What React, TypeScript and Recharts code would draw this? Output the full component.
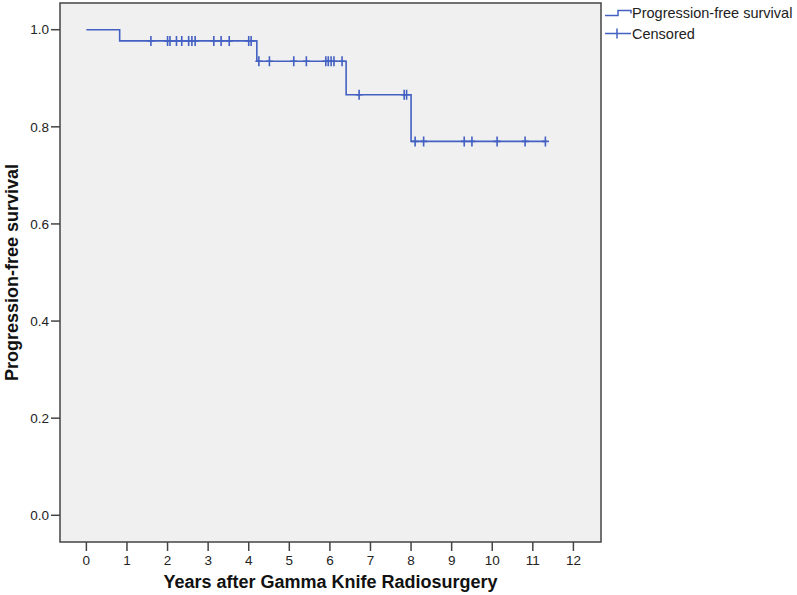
import { ComposedChart, Line, Scatter, XAxis, YAxis, ReferenceArea } from 'recharts'

// Kaplan-Meier steps (time in years, cumulative survival)
const stepTimes = [0, 0.82, 4.2, 6.4, 8.0, 11.31]
const stepSurvival = [1.0, 0.977, 0.935, 0.866, 0.77, 0.77]

// censored observations
const censorTimes = [
  1.59, 2.0, 2.06, 2.22, 2.35, 2.52, 2.6, 2.68, 3.14, 3.32, 3.52, 4.0, 4.06,
  4.25, 4.51, 5.11, 5.42, 5.9, 5.96, 6.03, 6.1, 6.3,
  6.72, 7.83, 7.89,
  8.1, 8.31, 9.31, 9.5, 10.12, 10.81, 11.31,
]
const censorSurvival = [
  0.977, 0.977, 0.977, 0.977, 0.977, 0.977, 0.977, 0.977, 0.977, 0.977, 0.977, 0.977, 0.977,
  0.935, 0.935, 0.935, 0.935, 0.935, 0.935, 0.935, 0.935, 0.935,
  0.866, 0.866, 0.866,
  0.77, 0.77, 0.77, 0.77, 0.77, 0.77, 0.77,
]

const xTicks = [0, 1, 2, 3, 4, 5, 6, 7, 8, 9, 10, 11, 12]
const yTicks = [0, 0.2, 0.4, 0.6, 0.8, 1.0]

const X_DOMAIN: [number, number] = [-0.65, 12.68]
const Y_DOMAIN: [number, number] = [-0.055, 1.055]

const BLUE = '#4360c2'
const FONT = '"Liberation Sans", Arial, sans-serif'

const survivalData = stepTimes.map((t, i) => ({ t, s: stepSurvival[i] }))
const censorData = censorTimes.map((t, i) => ({ t, s: censorSurvival[i] }))

const CensorMark = (props: any) => {
  const { cx, cy } = props
  return (
    <path
      d={`M${cx - 3.5},${cy}h7M${cx},${cy - 5}v10`}
      stroke={BLUE}
      strokeWidth={1.6}
      fill="none"
    />
  )
}

function LegendBox() {
  return (
    <div style={{ position: 'absolute', left: 603, top: 0, width: 194, height: 44 }}>
      <svg width={194} height={44} style={{ display: 'block' }}>
        <path d="M2,15.5h13v-5h13v3" stroke={BLUE} strokeWidth={1.5} fill="none" />
        <text x={29} y={18} fontSize={14.5} fontFamily={FONT} fill="#222">
          Progression-free survival
        </text>
        <path d="M2,33.5h26M14,28.5v10" stroke={BLUE} strokeWidth={1.5} fill="none" />
        <text x={29} y={38.5} fontSize={14.5} fontFamily={FONT} fill="#222">
          Censored
        </text>
      </svg>
    </div>
  )
}

export default function App() {
  return (
    <div style={{ position: 'absolute', left: 0, top: 0, width: 797, height: 595, background: '#fff' }}>
      <ComposedChart
        width={797}
        height={595}
        margin={{ top: 3, right: 196, bottom: 0, left: 0 }}
      >
        <XAxis
          type="number"
          dataKey="t"
          domain={X_DOMAIN}
          ticks={xTicks}
          interval={0}
          height={53}
          axisLine={false}
          tickSize={9}
          tickMargin={4}
          tickLine={{ stroke: '#444', strokeWidth: 1.5 }}
          tick={{ fontSize: 13.5, fill: '#222', fontFamily: FONT }}
          label={{
            value: 'Years after Gamma Knife Radiosurgery',
            position: 'insideBottom',
            offset: 7,
            style: { fontSize: 18, fontWeight: 'bold', fill: '#111', fontFamily: FONT },
          }}
        />
        <YAxis
          type="number"
          dataKey="s"
          domain={Y_DOMAIN}
          ticks={yTicks}
          interval={0}
          width={60}
          axisLine={false}
          tickSize={9}
          tickMargin={2}
          tickFormatter={(v: number) => v.toFixed(1)}
          tickLine={{ stroke: '#444', strokeWidth: 1.5 }}
          tick={{ fontSize: 13.5, fill: '#222', fontFamily: FONT }}
          label={{
            value: 'Progression-free survival',
            angle: -90,
            position: 'insideLeft',
            offset: 12,
            style: { textAnchor: 'middle', fontSize: 18, fontWeight: 'bold', fill: '#111', fontFamily: FONT },
          }}
        />
        <ReferenceArea
          x1={X_DOMAIN[0]}
          x2={X_DOMAIN[1]}
          y1={Y_DOMAIN[0]}
          y2={Y_DOMAIN[1]}
          fill="#f0f0f0"
          fillOpacity={1}
          stroke="#444"
          strokeWidth={1.5}
        />
        <Line
          data={survivalData}
          dataKey="s"
          type="stepAfter"
          stroke={BLUE}
          strokeWidth={1.6}
          dot={false}
          activeDot={false}
          isAnimationActive={false}
        />
        <Scatter
          data={censorData}
          dataKey="s"
          shape={CensorMark}
          isAnimationActive={false}
        />
      </ComposedChart>
      <LegendBox />
    </div>
  )
}
